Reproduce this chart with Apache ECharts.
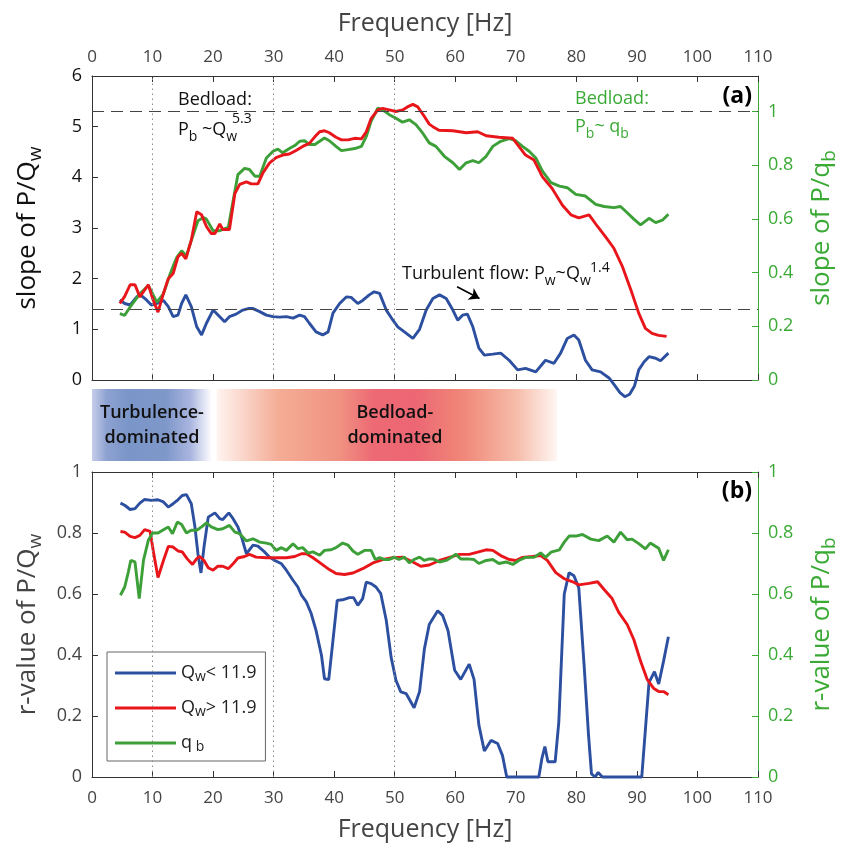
<!DOCTYPE html>
<html><head><meta charset="utf-8">
<script src="https://cdn.jsdelivr.net/npm/echarts@6/dist/echarts.min.js"></script>
<style>html,body{margin:0;padding:0;background:#fff}#c{width:851px;height:850px}</style>
</head><body><div id="c"></div><script>
// ---------- data (Hz, value) ----------
const aBlue = [[4.6,1.58],[5.4,1.51],[6.3,1.48],[7.4,1.64],[7.9,1.69],[9.0,1.58],[9.8,1.48],[10.7,1.51],[11.8,1.57],[12.6,1.45],[13.4,1.25],[14.2,1.28],[14.8,1.51],[15.5,1.68],[16.4,1.45],[17.3,1.05],[18.1,0.89],[18.9,1.12],[20.0,1.38],[21.1,1.25],[21.9,1.15],[22.7,1.25],[23.8,1.30],[24.9,1.38],[25.8,1.41],[26.6,1.41],[27.7,1.35],[28.8,1.28],[29.9,1.25],[31.0,1.24],[32.1,1.25],[33.2,1.22],[34.3,1.28],[35.1,1.25],[35.9,1.12],[37.0,0.95],[38.1,0.89],[39.0,0.95],[39.8,1.32],[40.9,1.51],[42.0,1.64],[42.8,1.63],[43.9,1.51],[44.7,1.57],[45.8,1.68],[46.6,1.74],[47.5,1.71],[48.6,1.38],[49.7,1.18],[50.5,1.05],[51.6,0.95],[53.0,0.82],[54.1,1.0],[55.2,1.38],[56.3,1.61],[57.4,1.68],[58.5,1.61],[59.6,1.38],[60.4,1.18],[61.2,1.28],[62.0,1.30],[62.9,1.05],[63.9,0.63],[64.8,0.49],[66.2,0.51],[67.5,0.53],[68.9,0.39],[70.3,0.20],[71.6,0.23],[73.3,0.16],[74.9,0.39],[76.3,0.33],[77.4,0.53],[78.5,0.82],[79.6,0.89],[80.4,0.79],[81.5,0.39],[82.6,0.20],[84.0,0.16],[85.4,0.04],[86.3,-0.1],[87.2,-0.25],[88.0,-0.33],[88.8,-0.28],[89.6,-0.12],[90.3,0.2],[91.2,0.36],[92.0,0.46],[93.1,0.43],[93.9,0.38],[95.2,0.53]];
const aRed = [[4.6,1.51],[5.4,1.65],[6.3,1.88],[7.1,1.88],[7.9,1.64],[9.3,1.88],[10.1,1.58],[10.9,1.34],[11.8,1.71],[12.6,2.0],[13.4,2.1],[14.2,2.43],[14.8,2.5],[15.5,2.39],[16.4,2.76],[17.3,3.32],[18.1,3.26],[18.9,3.03],[19.7,2.89],[20.3,2.89],[21.1,3.08],[21.6,2.97],[22.7,2.97],[23.6,3.68],[24.4,3.86],[25.5,3.91],[26.3,3.87],[27.4,3.87],[28.2,4.08],[29.3,4.28],[30.4,4.39],[31.5,4.44],[32.6,4.46],[33.7,4.53],[34.8,4.61],[35.9,4.67],[36.8,4.80],[37.6,4.90],[38.4,4.92],[39.2,4.88],[40.3,4.79],[41.2,4.74],[42.3,4.74],[43.4,4.77],[44.5,4.76],[45.3,4.90],[46.1,5.16],[47.2,5.33],[48.0,5.36],[49.1,5.33],[50.2,5.30],[51.3,5.33],[52.1,5.39],[53.0,5.44],[53.8,5.39],[54.9,5.20],[55.7,5.05],[56.3,5.0],[57.3,4.93],[59.6,4.92],[61.8,4.88],[63.7,4.90],[65.1,4.82],[67.2,4.79],[69.5,4.77],[70.5,4.61],[71.6,4.44],[73.0,4.34],[74.4,4.01],[76.0,3.78],[77.7,3.45],[79.1,3.26],[80.4,3.20],[82.1,3.26],[83.5,3.03],[84.8,2.83],[86.2,2.60],[87.6,2.24],[89.2,1.71],[90.3,1.32],[91.4,1.02],[92.5,0.92],[93.6,0.88],[94.9,0.86]];
const aGreen = [[4.6,0.247],[5.4,0.241],[6.3,0.272],[7.9,0.321],[9.3,0.352],[10.7,0.29],[11.8,0.321],[12.9,0.395],[14.0,0.457],[14.8,0.481],[15.6,0.463],[16.4,0.519],[17.5,0.593],[18.4,0.605],[18.9,0.599],[20.0,0.556],[21.1,0.556],[22.5,0.568],[23.3,0.667],[24.1,0.765],[25.2,0.788],[26.0,0.784],[26.9,0.759],[27.7,0.759],[28.8,0.827],[29.9,0.852],[30.7,0.86],[31.5,0.846],[32.6,0.862],[33.5,0.873],[34.3,0.889],[35.1,0.891],[35.9,0.877],[36.8,0.877],[37.6,0.889],[38.4,0.901],[39.2,0.891],[40.3,0.870],[41.2,0.854],[42.3,0.858],[43.4,0.862],[44.5,0.870],[45.3,0.907],[46.1,0.963],[47.2,1.012],[48.0,1.006],[49.1,0.988],[50.2,0.975],[51.3,0.96],[52.4,0.969],[53.5,0.951],[54.6,0.920],[55.7,0.883],[56.8,0.870],[58.2,0.833],[59.6,0.809],[60.7,0.784],[61.8,0.809],[62.9,0.817],[63.9,0.809],[65.1,0.833],[66.2,0.870],[67.5,0.889],[68.9,0.899],[70.0,0.891],[71.1,0.870],[72.2,0.852],[73.3,0.827],[74.4,0.778],[75.8,0.735],[77.2,0.722],[78.5,0.716],[79.9,0.691],[81.5,0.685],[83.2,0.654],[84.6,0.646],[86.2,0.642],[87.3,0.646],[88.4,0.623],[89.5,0.599],[90.6,0.578],[92.0,0.602],[93.1,0.586],[94.2,0.595],[95.2,0.617]];
const bBlue = [[4.7,0.898],[5.4,0.891],[6.3,0.877],[7.1,0.880],[7.9,0.898],[8.7,0.910],[9.8,0.907],[10.9,0.909],[11.8,0.902],[12.6,0.885],[13.4,0.896],[14.2,0.909],[14.9,0.923],[15.6,0.926],[16.4,0.896],[17.0,0.820],[17.5,0.732],[18.0,0.669],[18.5,0.754],[19.2,0.852],[20.3,0.866],[21.1,0.847],[21.6,0.844],[22.6,0.866],[23.3,0.847],[24.1,0.820],[24.7,0.787],[25.5,0.732],[26.6,0.760],[27.4,0.757],[28.5,0.738],[29.3,0.721],[30.2,0.710],[31.3,0.699],[32.1,0.678],[33.2,0.645],[34.0,0.623],[34.6,0.596],[35.4,0.574],[36.2,0.536],[37.0,0.481],[37.9,0.399],[38.4,0.322],[39.1,0.319],[39.8,0.448],[40.5,0.579],[41.4,0.581],[42.5,0.588],[43.2,0.588],[43.9,0.563],[44.7,0.585],[45.3,0.639],[46.1,0.634],[46.9,0.623],[47.7,0.601],[48.6,0.514],[49.4,0.393],[50.2,0.317],[51.0,0.279],[51.9,0.273],[53.2,0.227],[54.1,0.28],[54.9,0.42],[55.7,0.50],[57.1,0.545],[57.9,0.53],[58.8,0.48],[59.9,0.35],[60.9,0.32],[62.3,0.37],[63.1,0.32],[63.9,0.17],[64.8,0.085],[65.9,0.12],[67.0,0.11],[67.8,0.07],[68.5,0.0],[73.8,0.0],[74.3,0.06],[74.8,0.10],[75.3,0.05],[76.5,0.05],[77.1,0.18],[78.0,0.60],[78.8,0.67],[79.6,0.66],[80.4,0.62],[81.3,0.36],[82.0,0.14],[82.5,0.01],[83.1,0.0],[83.6,0.015],[84.3,0.0],[90.8,0.0],[92.0,0.31],[92.9,0.345],[93.6,0.305],[94.4,0.38],[95.2,0.46]];
const bRed = [[4.7,0.805],[5.4,0.803],[6.3,0.789],[7.1,0.785],[7.9,0.792],[8.7,0.811],[9.6,0.805],[10.2,0.732],[10.9,0.654],[11.8,0.710],[12.6,0.756],[13.4,0.754],[14.2,0.741],[14.9,0.738],[15.7,0.716],[16.6,0.697],[17.3,0.716],[17.8,0.723],[18.5,0.710],[19.2,0.686],[20.0,0.678],[20.8,0.691],[21.6,0.691],[22.5,0.683],[23.3,0.699],[24.1,0.718],[25.2,0.723],[26.0,0.730],[27.1,0.721],[28.8,0.719],[30.4,0.719],[32.1,0.719],[33.5,0.723],[34.6,0.732],[35.4,0.732],[36.5,0.719],[37.9,0.699],[39.2,0.680],[40.3,0.667],[41.7,0.664],[43.1,0.669],[44.7,0.683],[46.4,0.702],[48.0,0.713],[49.7,0.719],[51.3,0.721],[53.0,0.705],[54.3,0.691],[55.7,0.695],[57.4,0.71],[59.0,0.72],[60.7,0.73],[62.3,0.73],[63.7,0.737],[65.1,0.745],[66.2,0.743],[67.5,0.726],[68.9,0.713],[70.0,0.71],[71.1,0.72],[72.7,0.723],[74.1,0.726],[75.2,0.71],[76.6,0.67],[78.0,0.65],[79.4,0.64],[80.4,0.63],[82.1,0.635],[83.5,0.64],[84.8,0.61],[85.9,0.585],[87.0,0.54],[88.4,0.50],[89.5,0.45],[90.6,0.38],[91.7,0.32],[92.8,0.29],[93.6,0.28],[94.4,0.28],[95.2,0.27]];
const bGreen = [[4.7,0.596],[5.4,0.623],[6.0,0.672],[6.4,0.710],[7.1,0.705],[7.8,0.585],[8.5,0.710],[9.3,0.776],[10.0,0.800],[10.9,0.800],[11.8,0.811],[12.6,0.820],[13.3,0.798],[14.1,0.836],[14.8,0.828],[15.6,0.800],[16.4,0.809],[17.3,0.809],[18.1,0.820],[18.9,0.833],[19.7,0.820],[20.8,0.811],[21.6,0.814],[22.7,0.825],[23.6,0.803],[24.4,0.798],[25.5,0.774],[26.6,0.781],[27.7,0.770],[28.8,0.767],[29.6,0.763],[30.4,0.743],[31.3,0.752],[32.1,0.743],[33.2,0.765],[34.0,0.749],[34.8,0.752],[35.7,0.734],[36.5,0.738],[37.6,0.727],[38.4,0.743],[39.5,0.745],[40.3,0.752],[41.4,0.767],[42.3,0.760],[43.1,0.741],[43.9,0.730],[45.0,0.743],[46.1,0.743],[46.8,0.713],[47.5,0.719],[48.3,0.713],[49.1,0.713],[49.9,0.721],[50.7,0.713],[51.6,0.721],[52.4,0.702],[53.2,0.713],[54.1,0.721],[54.9,0.710],[55.7,0.715],[56.3,0.715],[57.4,0.705],[58.5,0.71],[59.3,0.72],[60.1,0.73],[60.9,0.715],[62.0,0.715],[63.1,0.713],[63.9,0.70],[65.1,0.71],[66.2,0.713],[67.2,0.70],[68.4,0.705],[69.5,0.697],[70.5,0.71],[71.6,0.72],[73.0,0.72],[74.1,0.735],[74.9,0.72],[75.8,0.737],[77.2,0.745],[78.0,0.77],[78.8,0.79],[79.9,0.79],[81.0,0.795],[82.4,0.78],[83.7,0.775],[85.1,0.79],[86.2,0.77],[87.3,0.803],[88.4,0.778],[89.2,0.78],[90.3,0.765],[91.4,0.748],[92.2,0.767],[93.6,0.75],[94.4,0.71],[95.2,0.745]];

const seriesNames = ['Qw< 11.9', 'Qw> 11.9', 'qb'];
const rightTicks = [0, 0.2, 0.4, 0.6, 0.8, 1];
const slopeRefs = [5.3, 1.4];          // dashed reference exponents
const dottedHz = [10, 30, 50];         // dotted vertical guides
const bandBlue = [0, 19.8];            // turbulence-dominated range (Hz)
const bandRed = [20.6, 76.8];          // bedload-dominated range (Hz)
const arrowPts = [[60.3, 1.84], [64.0, 1.61]];

// ---------- styling ----------
const FF = '"Open Sans", "Liberation Sans", sans-serif';
const BLUE = '#2c4fa0', RED = '#e8161b', GREEN = '#3c9f38', GTXT = '#3aaa35';
const LW = 2.9;

function xAxis(grid, pos, showLabel, name) {
  return {
    gridIndex: grid, type: 'value', position: pos, min: 0, max: 110, interval: 10,
    axisLine: { show: true, onZero: false, lineStyle: { color: '#333', width: 1 } },
    axisTick: { show: true, inside: true, length: 6, lineStyle: { color: '#333' } },
    axisLabel: { show: showLabel, fontSize: 17, color: '#444', margin: pos === 'top' ? 10 : 13, fontFamily: FF },
    splitLine: { show: false },
    name: name || '', nameLocation: 'middle', nameGap: 40, nameMoveOverlap: false,
    nameTextStyle: { fontSize: 25, color: '#444', fontFamily: FF }
  };
}
function nameRich(color) {
  return {
    fontFamily: FF, color: color,
    rich: {
      n: { fontSize: 26, lineHeight: 34, color: color, fontFamily: FF },
      s: { fontSize: 19, lineHeight: 14, verticalAlign: 'bottom', color: color, fontFamily: FF }
    }
  };
}
function yAxis(grid, pos, min, max, interval, color, lineColor, name, custom) {
  const o = {
    gridIndex: grid, type: 'value', position: pos, min: min, max: max, interval: interval,
    axisLine: { show: true, onZero: false, lineStyle: { color: lineColor, width: 1 } },
    axisTick: { show: true, inside: true, length: 6, lineStyle: { color: lineColor } },
    axisLabel: { show: true, fontSize: 18, color: color, margin: 10, fontFamily: FF },
    splitLine: { show: false },
    name: name, nameLocation: 'middle', nameRotate: 90, nameGap: 47, nameMoveOverlap: false,
    nameTextStyle: nameRich(color)
  };
  if (custom) { o.axisLabel.customValues = custom; o.axisTick.customValues = custom; }
  return o;
}
function line(name, data, xi, yi, color, extra) {
  return Object.assign({
    name: name, type: 'line', data: data, xAxisIndex: xi, yAxisIndex: yi,
    symbol: 'none', showSymbol: false, clip: false, smooth: false,
    lineStyle: { color: color, width: LW }, itemStyle: { color: color },
    emphasis: { disabled: true }, z: 3
  }, extra || {});
}
const guideLines = (withRefs) => ({
  silent: true, symbol: 'none', animation: false, label: { show: false },
  data: [
    ...(withRefs ? slopeRefs.map(v => ({ yAxis: v, lineStyle: { type: [12, 7], color: '#444', width: 1 } })) : []),
    ...dottedHz.map(v => ({ xAxis: v, lineStyle: { type: [1.5, 3.5], color: '#8a8a8a', width: 1 } }))
  ]
});
const gradBlue = { type: 'linear', x: 0, y: 0, x2: 1, y2: 0, colorStops: [
  { offset: 0, color: '#c6cdea' }, { offset: 0.12, color: '#8ea2d1' }, { offset: 0.3, color: '#7a95c8' },
  { offset: 0.62, color: '#7f98ca' }, { offset: 0.82, color: '#a9b5df' }, { offset: 1, color: '#ffffff' } ] };
const gradRed = { type: 'linear', x: 0, y: 0, x2: 1, y2: 0, colorStops: [
  { offset: 0, color: '#fff4f0' }, { offset: 0.18, color: '#f4ad96' }, { offset: 0.36, color: '#f09282' },
  { offset: 0.46, color: '#ed6a74' }, { offset: 0.58, color: '#ec6673' }, { offset: 0.72, color: '#f08678' },
  { offset: 0.88, color: '#f6bca9' }, { offset: 1, color: '#fff6f3' } ] };
const bandLabel = { show: true, position: 'inside', fontSize: 18, fontWeight: 600, color: '#111', lineHeight: 25, fontFamily: FF };

const annRich = (c) => ({
  n: { fontSize: 18, lineHeight: 28, fill: c, fontFamily: FF },
  s: { fontSize: 14, lineHeight: 12, verticalAlign: 'bottom', fill: c, fontFamily: FF }
});
function ann(x, y, text, c, size, weight, align) {
  return { type: 'text', z: 50, silent: true, style: {
    x: x, y: y, text: text, fill: c, align: align || 'left', verticalAlign: 'middle',
    font: (weight || 'normal') + ' ' + (size || 18) + 'px ' + FF, rich: annRich(c) } };
}

const option = {
  animation: false,
  backgroundColor: '#fff',
  textStyle: { fontFamily: FF },
  grid: [
    { left: 92, right: 93, top: 76, height: 304, outerBoundsMode: 'none', containLabel: false },
    { left: 92, right: 93, top: 472, height: 305, outerBoundsMode: 'none', containLabel: false },
    { left: 92, right: 93, top: 389, height: 72, outerBoundsMode: 'none', containLabel: false, show: false }
  ],
  xAxis: [
    xAxis(0, 'top', true, 'Frequency [Hz]'),
    xAxis(0, 'bottom', false),
    xAxis(1, 'top', false),
    xAxis(1, 'bottom', true, 'Frequency [Hz]'),
    { gridIndex: 2, type: 'value', min: 0, max: 110, show: false }
  ],
  yAxis: [
    yAxis(0, 'left', 0, 6, 1, '#111', '#333', '{n|slope of P/Q}{s|w}'),
    yAxis(0, 'right', 0, 6 / 5.3, 0.2, GTXT, GTXT, '{n|slope of P/q}{s|b}', rightTicks),
    yAxis(1, 'left', 0, 1, 0.2, '#444', '#333', '{n|r-value of P/Q}{s|w}'),
    yAxis(1, 'right', 0, 1, 0.2, GTXT, GTXT, '{n|r-value of P/q}{s|b}'),
    { gridIndex: 2, type: 'value', min: 0, max: 1, show: false }
  ],
  legend: {
    data: seriesNames.map(n => ({ name: n, icon: 'rect' })), orient: 'vertical', left: 107, top: 652,
    padding: [12, 9, 7, 8], itemGap: 15, itemWidth: 61, itemHeight: 3,
    borderColor: '#666', borderWidth: 1, backgroundColor: '#fff', borderRadius: 0,
    selectedMode: false,
    formatter: function (n) {
      return { 'Qw< 11.9': '{n|Q}{s|w}{n|< 11.9}', 'Qw> 11.9': '{n|Q}{s|w}{n|> 11.9}', 'qb': '{n|q}{s| b}' }[n];
    },
    textStyle: { fontFamily: FF, color: '#222', rich: {
      n: { fontSize: 18, lineHeight: 22, color: '#222', fontFamily: FF },
      s: { fontSize: 14, lineHeight: 4, verticalAlign: 'bottom', color: '#222', fontFamily: FF } } }
  },
  series: [
    line(seriesNames[0], aBlue, 0, 0, BLUE, { markLine: guideLines(true) }),
    line(seriesNames[2], aGreen, 0, 1, GREEN),
    line(seriesNames[1], aRed, 0, 0, RED, { markLine: {
      silent: true, animation: false, symbol: ['none', 'arrow'], symbolSize: 10, label: { show: false },
      lineStyle: { color: '#000', width: 1.6, type: 'solid' },
      data: [[{ coord: arrowPts[0] }, { coord: arrowPts[1] }]] } }),
    line(seriesNames[0], bBlue, 3, 2, BLUE, { markLine: guideLines(false) }),
    line(seriesNames[1], bRed, 3, 2, RED),
    line(seriesNames[2], bGreen, 3, 3, GREEN),
    { type: 'line', xAxisIndex: 4, yAxisIndex: 4, data: [], silent: true,
      markArea: { silent: true, animation: false, data: [
        [{ xAxis: bandBlue[0], itemStyle: { color: gradBlue }, label: Object.assign({ formatter: 'Turbulence-\ndominated' }, bandLabel) }, { xAxis: bandBlue[1] }],
        [{ xAxis: bandRed[0], itemStyle: { color: gradRed }, label: Object.assign({ formatter: 'Bedload-\ndominated', offset: [8, 0] }, bandLabel) }, { xAxis: bandRed[1] }]
      ] } }
  ],
  graphic: [
    ann(178, 100, '{n|Bedload:}', '#111'),
    ann(178, 130, '{n|P}{s|b}{n| ~Q}{s|w}', '#111'),
    ann(232, 119, '5.3', '#111', 14),
    ann(575, 99, '{n|Bedload:}', GTXT),
    ann(575, 127, '{n|P}{s|b}{n|~ q}{s|b}', GTXT),
    ann(402, 274, '{n|Turbulent flow: P}{s|w}{n|~Q}{s|w}', '#111'),
    ann(590, 268, '1.4', '#111', 14),
    ann(752, 96, '(a)', '#000', 23, 'bold', 'right'),
    ann(752, 491, '(b)', '#000', 23, 'bold', 'right')
  ]
};
const chart = echarts.init(document.getElementById('c'), null, { renderer: 'canvas' });
chart.setOption(option);
</script></body></html>
